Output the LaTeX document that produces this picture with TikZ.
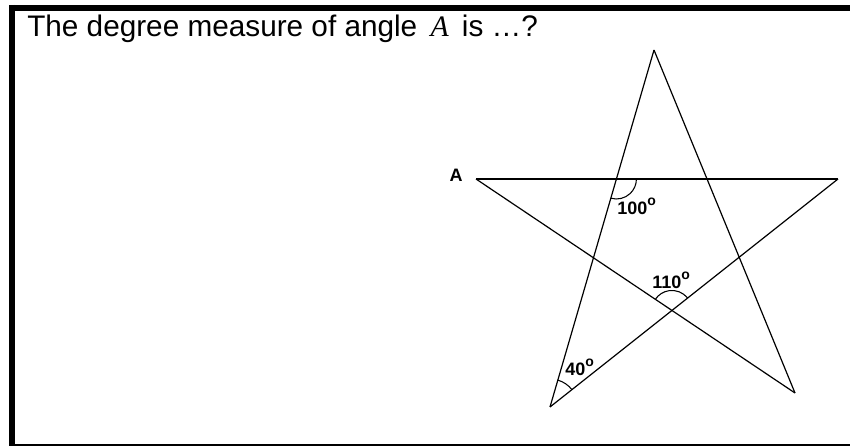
\documentclass[tikz,border=0pt]{standalone}
\usepackage{fontspec}
\setmainfont{Liberation Sans}
\newfontfamily\timesfont{Liberation Serif}
\usetikzlibrary{angles}

\newcommand{\dg}{\raisebox{0.5em}{\fontsize{10.5}{11}\selectfont o}}

\begin{document}
\begin{tikzpicture}[
    x=0.75pt, y=0.75pt,
    side/.style={line width=0.9pt},
    anglearc/.style={draw, line width=0.8pt, angle radius=15pt},
    lbl/.style={font=\bfseries\fontsize{13.5}{15}\selectfont, inner sep=0pt, anchor=base west}
]
\useasboundingbox (0,0) rectangle (850,446);

% frame
\draw[line width=4.5pt] (9,438) -- (850,438);
\draw[line width=4.5pt] (12,441) -- (12,0);
\draw[line width=1.2pt] (12,1) -- (850,1);

\node[anchor=base west, inner sep=0pt, font=\fontsize{22.3}{26}\selectfont] (title) at (27,409)
    {The degree measure of angle \,{\timesfont\itshape A}\, is …?};

% star points
\coordinate (T) at (654,396);
\coordinate (A) at (476,267);
\coordinate (R) at (838,267);
\coordinate (BL) at (550,39);
\coordinate (BR) at (795,53);

\draw[side] (A) -- (R);
\draw[side] (A) -- (BR);
\draw[side] (T) -- (BL);
\draw[side] (T) -- (BR);
\draw[side] (BL) -- (R);

\coordinate (P1) at (intersection of A--R and T--BL);
\coordinate (P2) at (intersection of A--BR and BL--R);

\pic[anglearc] {angle = BL--P1--R};
\pic[anglearc] {angle = R--P2--A};
\pic[anglearc, angle radius=21pt] {angle = R--BL--T};

\node[lbl, anchor=base east] (lblA) at (463,264) {A};
\node[lbl] (lbl100) at (617,231) {100\dg};
\node[lbl] (lbl110) at (652,157) {110\dg};
\node[lbl] (lbl40) at (565,70) {40\dg};
\end{tikzpicture}
\end{document}
